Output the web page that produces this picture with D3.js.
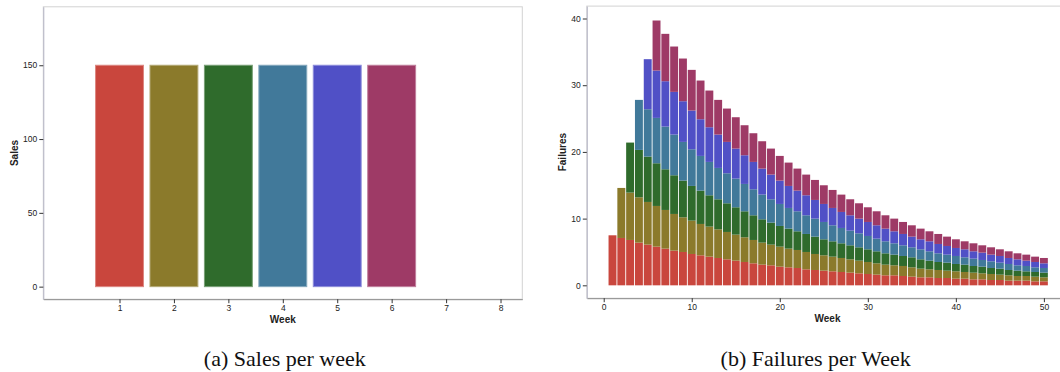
<!DOCTYPE html>
<html>
<head>
<meta charset="utf-8">
<script src="https://cdn.jsdelivr.net/npm/d3@7"></script>
<style>
body { margin: 0; background: #fff; }
#content { width: 1060px; height: 372px; overflow: hidden; }
.frame { fill: none; stroke: #d2d2d2; stroke-width: 1; }
.axis text { font-family: "Liberation Sans", Arial, sans-serif; font-size: 8.5px; fill: #222; }
.axis line { stroke: #333; }
.y-axis path.domain { stroke: #b6b6c6; }
.x-axis path.domain { stroke: #8a8a8a; }
.axis-title { font-family: "Liberation Sans", Arial, sans-serif; font-size: 10px; font-weight: bold; fill: #222; }
.caption { font-family: "Liberation Serif", serif; font-size: 22px; fill: #111; }
</style>
</head>
<body>
<div id="content"></div>
<script>
// (a) sales per week
const SALES_WEEKS = [1, 2, 3, 4, 5, 6];
const SALES = [150, 150, 150, 150, 150, 150];
const SALES_X_TICKS = [1, 2, 3, 4, 5, 6, 7, 8];
const SALES_Y_TICKS = [0, 50, 100, 150];

// (b) failures per week, one series per sales week (bottom to top)
const FAILURE_WEEKS = d3.range(1, 51);
const FAILURE_X_TICKS = [0, 10, 20, 30, 40, 50];
const FAILURE_Y_TICKS = [0, 10, 20, 30, 40];
const COHORTS = ['w1', 'w2', 'w3', 'w4', 'w5', 'w6'];
const COLORS = ['#c9463d', '#8b7a2b', '#2f6b2c', '#41799a', '#5050c6', '#9e3a66'];

const FAIL_W1 = [7.5, 7.1, 6.8, 6.4, 6.1, 5.8, 5.5, 5.2, 5.0, 4.7,
    4.5, 4.3, 4.1, 3.9, 3.7, 3.5, 3.3, 3.1, 3.0, 2.8,
    2.7, 2.6, 2.4, 2.3, 2.2, 2.1, 2.0, 1.9, 1.8, 1.7,
    1.6, 1.5, 1.5, 1.4, 1.3, 1.2, 1.2, 1.1, 1.1, 1.0,
    1.0, 0.9, 0.9, 0.8, 0.8, 0.7, 0.7, 0.7, 0.6, 0.6];
const FAIL_W2 = [0, 7.5, 7.1, 6.8, 6.4, 6.1, 5.8, 5.5, 5.2, 5.0,
    4.7, 4.5, 4.3, 4.1, 3.9, 3.7, 3.5, 3.3, 3.1, 3.0,
    2.8, 2.7, 2.6, 2.4, 2.3, 2.2, 2.1, 2.0, 1.9, 1.8,
    1.7, 1.6, 1.5, 1.5, 1.4, 1.3, 1.2, 1.2, 1.1, 1.1,
    1.0, 1.0, 0.9, 0.9, 0.8, 0.8, 0.7, 0.7, 0.7, 0.6];
const FAIL_W3 = [0, 0, 7.5, 7.1, 6.8, 6.4, 6.1, 5.8, 5.5, 5.2,
    5.0, 4.7, 4.5, 4.3, 4.1, 3.9, 3.7, 3.5, 3.3, 3.1,
    3.0, 2.8, 2.7, 2.6, 2.4, 2.3, 2.2, 2.1, 2.0, 1.9,
    1.8, 1.7, 1.6, 1.5, 1.5, 1.4, 1.3, 1.2, 1.2, 1.1,
    1.1, 1.0, 1.0, 0.9, 0.9, 0.8, 0.8, 0.7, 0.7, 0.7];
const FAIL_W4 = [0, 0, 0, 7.5, 7.1, 6.8, 6.4, 6.1, 5.8, 5.5,
    5.2, 5.0, 4.7, 4.5, 4.3, 4.1, 3.9, 3.7, 3.5, 3.3,
    3.1, 3.0, 2.8, 2.7, 2.6, 2.4, 2.3, 2.2, 2.1, 2.0,
    1.9, 1.8, 1.7, 1.6, 1.5, 1.5, 1.4, 1.3, 1.2, 1.2,
    1.1, 1.1, 1.0, 1.0, 0.9, 0.9, 0.8, 0.8, 0.7, 0.7];
const FAIL_W5 = [0, 0, 0, 0, 7.5, 7.1, 6.8, 6.4, 6.1, 5.8,
    5.5, 5.2, 5.0, 4.7, 4.5, 4.3, 4.1, 3.9, 3.7, 3.5,
    3.3, 3.1, 3.0, 2.8, 2.7, 2.6, 2.4, 2.3, 2.2, 2.1,
    2.0, 1.9, 1.8, 1.7, 1.6, 1.5, 1.5, 1.4, 1.3, 1.2,
    1.2, 1.1, 1.1, 1.0, 1.0, 0.9, 0.9, 0.8, 0.8, 0.7];
const FAIL_W6 = [0, 0, 0, 0, 0, 7.5, 7.1, 6.8, 6.4, 6.1,
    5.8, 5.5, 5.2, 5.0, 4.7, 4.5, 4.3, 4.1, 3.9, 3.7,
    3.5, 3.3, 3.1, 3.0, 2.8, 2.7, 2.6, 2.4, 2.3, 2.2,
    2.1, 2.0, 1.9, 1.8, 1.7, 1.6, 1.5, 1.5, 1.4, 1.3,
    1.2, 1.2, 1.1, 1.1, 1.0, 1.0, 0.9, 0.9, 0.8, 0.8];

var svg = d3.select('#content')
.append('svg')
.attr('width', 1060)
.attr('height', 372);

function drawAxes(g, xScale, yScale, xTicks, yTicks, box) {
    g.append('rect')
    .attr('class', 'frame')
    .attr('x', box.left)
    .attr('y', box.top)
    .attr('width', box.right - box.left)
    .attr('height', box.bottom - box.top);

    g.append('g')
    .attr('class', 'axis x-axis')
    .attr('transform', 'translate(0, ' + box.bottom + ')')
    .call(d3.axisBottom(xScale).tickValues(xTicks).tickSizeOuter(0).tickSizeInner(4).tickPadding(2));

    g.append('g')
    .attr('class', 'axis y-axis')
    .attr('transform', 'translate(' + box.left + ', 0)')
    .call(d3.axisLeft(yScale).tickValues(yTicks).tickSizeOuter(0).tickSizeInner(4).tickPadding(2));
}

function generateSales() {
    var box = {left: 43.3, right: 522.3, top: 6.8, bottom: 299.2};
    var g = svg.append('g').attr('class', 'chart-sales');

    var xScale = d3.scaleLinear().domain([-0.4, 8.4]).range([box.left, box.right]);
    var yScale = d3.scaleLinear().domain([-8.5, 189.6]).range([box.bottom, box.top]);

    g.selectAll('rect.bar')
    .data(SALES_WEEKS)
    .enter()
    .append('rect')
    .attr('class', 'bar')
    .attr('x', function (w) {return xScale(w - 0.44)})
    .attr('width', function (w) {return xScale(w + 0.44) - xScale(w - 0.44)})
    .attr('y', function (w, i) {return yScale(SALES[i])})
    .attr('height', function (w, i) {return yScale(0) - yScale(SALES[i])})
    .attr('fill', function (w, i) {return COLORS[i]})
    .attr('stroke', function (w, i) {return d3.interpolateRgb(COLORS[i], '#fff')(0.35)})
    .attr('stroke-width', 1);

    drawAxes(g, xScale, yScale, SALES_X_TICKS, SALES_Y_TICKS, box);

    g.append('text')
    .attr('class', 'axis-title')
    .attr('x', (box.left + box.right) / 2)
    .attr('y', 323)
    .attr('text-anchor', 'middle')
    .text('Week');

    g.append('text')
    .attr('class', 'axis-title')
    .attr('transform', 'translate(18, ' + (box.top + box.bottom) / 2 + ') rotate(-90)')
    .attr('text-anchor', 'middle')
    .text('Sales');

    g.append('text')
    .attr('class', 'caption')
    .attr('x', 284.8)
    .attr('y', 366)
    .attr('text-anchor', 'middle')
    .text('(a) Sales per week');
}

function generateFailures() {
    var box = {left: 586.8, right: 1070.3, top: 6.1, bottom: 298.2};
    var g = svg.append('g').attr('class', 'chart-failures');

    var xScale = d3.scaleLinear().domain([-1.92, 53]).range([box.left, box.right]);
    var yScale = d3.scaleLinear().domain([-1.93, 41.86]).range([box.bottom, box.top]);

    var series = [FAIL_W1, FAIL_W2, FAIL_W3, FAIL_W4, FAIL_W5, FAIL_W6];
    var rows = FAILURE_WEEKS.map(function (w, i) {
        var row = {week: w};
        COHORTS.forEach(function (k, j) {row[k] = series[j][i]});
        return row;
    });
    var stacked = d3.stack().keys(COHORTS)(rows);

    g.selectAll('g.layer')
    .data(stacked)
    .enter()
    .append('g')
    .attr('class', 'layer')
    .attr('fill', function (s, i) {return COLORS[i]})
    .selectAll('rect')
    .data(function (s) {return s.filter(function (d) {return d[1] > d[0]})})
    .enter()
    .append('rect')
    .attr('x', function (d) {return xScale(d.data.week - 0.45)})
    .attr('width', function (d) {return xScale(d.data.week + 0.45) - xScale(d.data.week - 0.45)})
    .attr('y', function (d) {return yScale(d[1])})
    .attr('height', function (d) {return yScale(d[0]) - yScale(d[1])});

    drawAxes(g, xScale, yScale, FAILURE_X_TICKS, FAILURE_Y_TICKS, box);

    g.append('text')
    .attr('class', 'axis-title')
    .attr('x', 827.5)
    .attr('y', 322)
    .attr('text-anchor', 'middle')
    .text('Week');

    g.append('text')
    .attr('class', 'axis-title')
    .attr('transform', 'translate(566, ' + (box.top + box.bottom) / 2 + ') rotate(-90)')
    .attr('text-anchor', 'middle')
    .text('Failures');

    g.append('text')
    .attr('class', 'caption')
    .attr('x', 815.7)
    .attr('y', 366)
    .attr('text-anchor', 'middle')
    .text('(b) Failures per Week');
}

function main() {
    generateSales();
    generateFailures();
}

main();
</script>
</body>
</html>
